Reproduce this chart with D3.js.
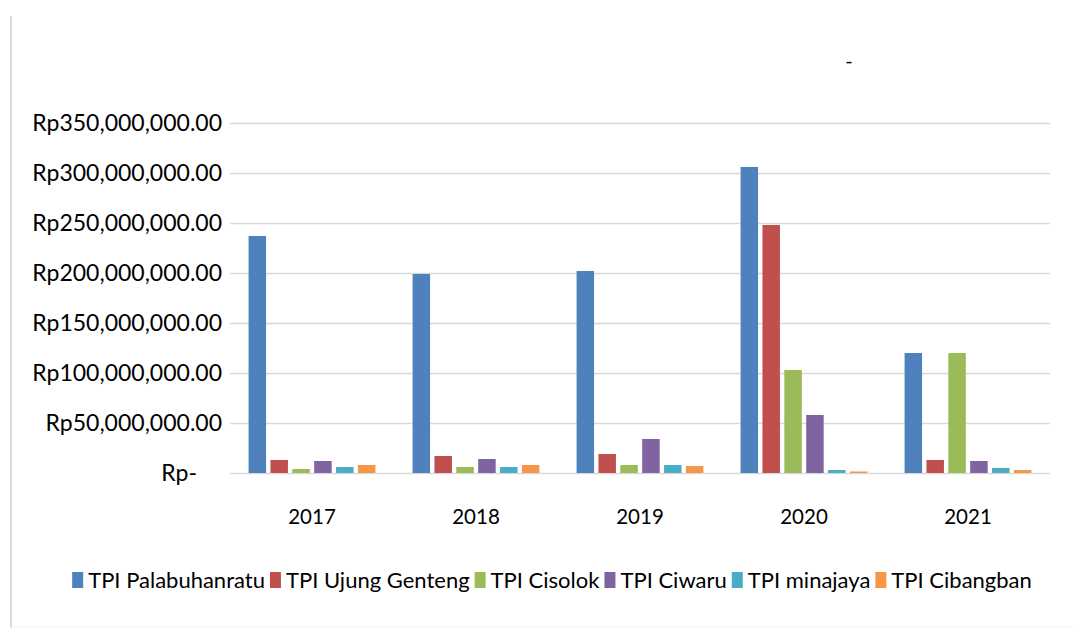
<!DOCTYPE html>
<html lang="en">
<head>
  <meta charset="UTF-8">
  <title>Nilai Produksi TPI</title>
  <script src="https://d3js.org/d3.v7.min.js"></script>
  <style>
    body {
      margin: 0;
      background-color: #fff;
      font-family: Lato, "Open Sans", sans-serif;
    }
    .grid line { stroke: #d9d9d9; stroke-width: 1.5; }
    .tick text { fill: #000; }
  </style>
</head>
<body>
  <svg width="1073" height="628"></svg>
  <script>
    const years = ["2017", "2018", "2019", "2020", "2021"];
    const seriesNames = ["TPI Palabuhanratu", "TPI Ujung Genteng", "TPI Cisolok", "TPI Ciwaru", "TPI minajaya", "TPI Cibangban"];
    const palabuhanratu = [237e6, 199e6, 202e6, 306e6, 120e6];
    const ujungGenteng  = [13e6, 17e6, 19e6, 248e6, 13e6];
    const cisolok       = [4e6, 6e6, 8e6, 103e6, 120e6];
    const ciwaru        = [12e6, 14e6, 34e6, 58e6, 12e6];
    const minajaya      = [6e6, 6e6, 8e6, 3e6, 5e6];
    const cibangban     = [8e6, 8e6, 7e6, 1.5e6, 3e6];
    const yTicks = [0, 50e6, 100e6, 150e6, 200e6, 250e6, 300e6, 350e6];
    const colors = ["#4F81BD", "#C0504D", "#9BBB59", "#8064A2", "#4BACC6", "#F79646"];

    const allSeries = [palabuhanratu, ujungGenteng, cisolok, ciwaru, minajaya, cibangban];

    const svg = d3.select("svg");
    const plotL = 230, plotR = 1050, plotT = 123, plotB = 473;

    // chart border (only left/bottom edges show in the picture)
    svg.append("line").attr("x1", 11).attr("x2", 11).attr("y1", 16).attr("y2", 628)
      .attr("stroke", "#d9d9d9").attr("stroke-width", 2);
    svg.append("line").attr("x1", 11).attr("x2", 1073).attr("y1", 627).attr("y2", 627)
      .attr("stroke", "#f0f0f0").attr("stroke-width", 1);

    const x0 = d3.scaleBand().domain(years).range([plotL, plotR]).paddingInner(0.2).paddingOuter(0.1);
    const x1 = d3.scaleBand().domain(d3.range(seriesNames.length)).range([0, x0.bandwidth()])
      .paddingInner(0.2).paddingOuter(0.1);
    const y = d3.scaleLinear().domain([0, 350e6]).range([plotB, plotT]);

    const fmt = d3.format(",.2f");
    const yAxis = d3.axisLeft(y).tickValues(yTicks)
      .tickSize(-(plotR - plotL)).tickPadding(8)
      .tickFormat(d => d === 0 ? "Rp-" : "Rp" + fmt(d));

    svg.append("g").attr("class", "grid")
      .attr("transform", `translate(${plotL},0)`)
      .call(yAxis)
      .call(g => g.select(".domain").remove())
      .selectAll("text")
        .style("font-size", "23px").style("font-family", "Lato")
        .attr("dx", d => d === 0 ? -25 : 0);

    // bars
    years.forEach((yr, i) => {
      const grp = svg.append("g").attr("transform", `translate(${x0(yr)},0)`);
      allSeries.forEach((s, j) => {
        grp.append("rect")
          .attr("x", x1(j))
          .attr("y", y(s[i]))
          .attr("width", x1.bandwidth())
          .attr("height", y(0) - y(s[i]))
          .attr("fill", colors[j]);
      });
    });

    const xAxis = d3.axisBottom(x0).tickSize(0).tickPadding(36);
    svg.append("g")
      .attr("transform", `translate(0,${plotB})`)
      .call(xAxis)
      .call(g => g.select(".domain").remove())
      .selectAll("text").style("font-size", "20.5px").style("font-family", "Lato");

    // title placeholder
    svg.append("text").attr("x", 849).attr("y", 68).attr("text-anchor", "middle")
      .style("font-size", "20px").style("font-family", "Lato").text("-");

    // legend
    const legend = svg.append("g").attr("class", "legend");
    let lx = 0;
    seriesNames.forEach((name, j) => {
      const item = legend.append("g").attr("transform", `translate(${lx},0)`);
      item.append("rect").attr("x", 0).attr("y", 572).attr("width", 11).attr("height", 16)
        .attr("fill", colors[j]);
      const t = item.append("text").attr("x", 16).attr("y", 588)
        .style("font-size", "22px").style("font-family", "Lato").text(name);
      lx += 16 + t.node().getComputedTextLength() + 5;
    });
    const legendW = lx - 5;
    legend.attr("transform", `translate(${552 - legendW / 2},0)`);
  </script>
</body>
</html>
